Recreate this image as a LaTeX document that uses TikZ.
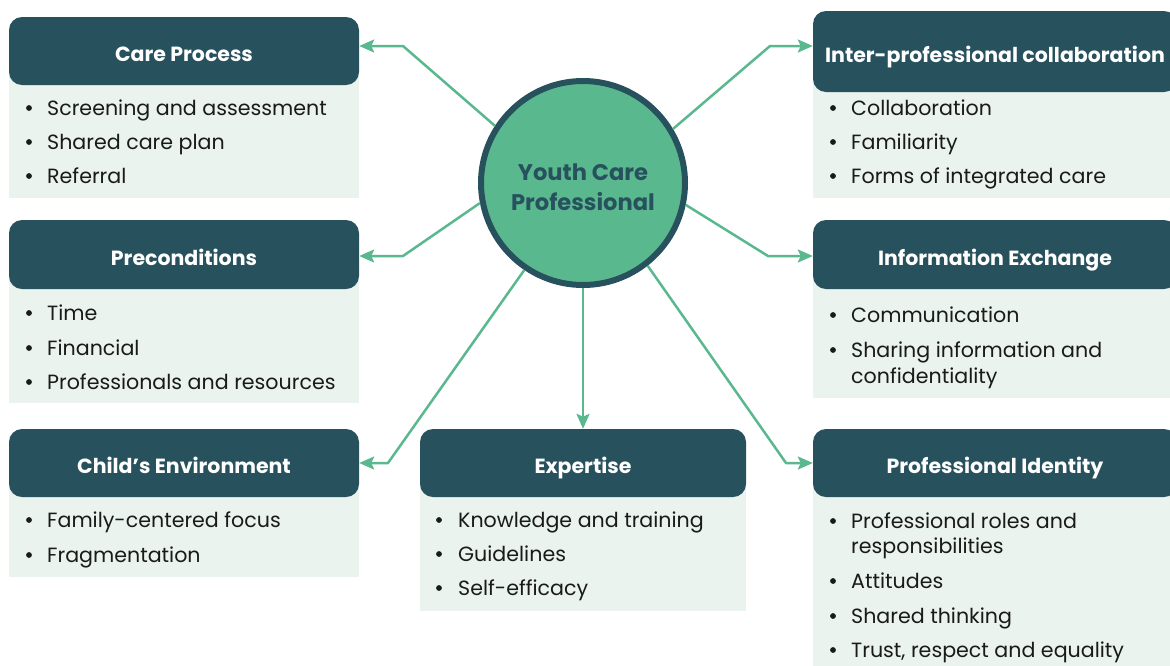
\documentclass[tikz,border=0pt]{standalone}
\usepackage{fontspec}
\setmainfont{Poppins}
\usetikzlibrary{arrows.meta}
\definecolor{dark}{HTML}{28515E}
\definecolor{grn}{HTML}{5AB88F}
\definecolor{light}{HTML}{EAF3EE}
\definecolor{txt}{HTML}{1A1A1A}
\tikzset{
  hdr/.style={fill=dark, rounded corners=13pt, text=white, inner sep=0pt,
    text height=21.5pt, text depth=0pt,
    font=\bfseries\fontsize{20.5}{24}\selectfont},
  bodytxt/.style={anchor=base west, inner sep=0pt, text=txt,
    font=\fontsize{20.6}{24}\selectfont},
  arr/.style={draw=grn, line width=2.5pt, line join=round,
    -{Stealth[length=15pt,width=13pt,inset=3pt]}},
  hub/.style={circle, fill=grn, draw=dark, line width=6pt, minimum size=204pt,
    inner sep=0pt},
  hubtxt/.style={align=center, text=dark, inner sep=0pt,
    font=\bfseries\fontsize{22.6}{30}\selectfont}
}
% name, left x of box, bullet offset, baseline y, text
\newcommand{\bitem}[5]{%
  \fill[txt] (#2+#3,#4-7) circle (2.9pt);
  \node[bodytxt] (#1) at (#2+38,#4) {#5};}
\newcommand{\contline}[4]{%
  \node[bodytxt] (#1) at (#2+38,#3) {#4};}
\begin{document}
\begin{tikzpicture}[x=1pt,y=-1pt]
\useasboundingbox (0,0) rectangle (1170,665);
\clip (0,0) rectangle (1170,665);

% body panels
\fill[light] (9,51) rectangle (359,198);
\fill[light] (9,255) rectangle (359,403);
\fill[light] (9,463) rectangle (359,577);
\fill[light] (420,463) rectangle (746,611);
\fill[light] (813,51) rectangle (1180,198);
\fill[light] (813,255) rectangle (1180,398);
\fill[light] (813,463) rectangle (1180,670);

% headers
\node[hdr, minimum width=350pt, minimum height=68pt] (cp) at (184,51) {Care Process};
\node[hdr, minimum width=350pt, minimum height=69pt] (pre) at (184,254.5) {Preconditions};
\node[hdr, minimum width=350pt, minimum height=68pt] (ce) at (184,463) {Child’s Environment};
\node[hdr, minimum width=326pt, minimum height=68pt] (ex) at (583,463) {Expertise};
\node[hdr, minimum width=364pt, minimum height=81pt] (ipc) at (995,51.5) {Inter-professional collaboration};
\node[hdr, minimum width=364pt, minimum height=69pt] (ie) at (995,254.5) {Information Exchange};
\node[hdr, minimum width=364pt, minimum height=68pt] (pi) at (995,463) {Professional Identity};

% items
\bitem{cp1}{9}{20}{115}{Screening and assessment}
\bitem{cp2}{9}{20}{149}{Shared care plan}
\bitem{cp3}{9}{20}{183}{Referral}
\bitem{pr1}{9}{20}{320}{Time}
\bitem{pr2}{9}{20}{355}{Financial}
\bitem{pr3}{9}{20}{389}{Professionals and resources}
\bitem{ce1}{9}{20}{527}{Family-centered focus}
\bitem{ce2}{9}{20}{562}{Fragmentation}
\bitem{ex1}{420}{19}{527}{Knowledge and training}
\bitem{ex2}{420}{19}{561}{Guidelines}
\bitem{ex3}{420}{19}{595}{Self-efficacy}
\bitem{ip1}{813}{20}{115}{Collaboration}
\bitem{ip2}{813}{20}{149}{Familiarity}
\bitem{ip3}{813}{20}{183}{Forms of integrated care}
\bitem{ie1}{813}{20}{322}{Communication}
\bitem{ie2}{813}{20}{357}{Sharing information and}
\contline{ie2b}{813}{383}{confidentiality}
\bitem{pi1}{813}{20}{528}{Professional roles and}
\contline{pi1b}{813}{553}{responsibilities}
\bitem{pi2}{813}{20}{588}{Attitudes}
\bitem{pi3}{813}{20}{623}{Shared thinking}
\bitem{pi4}{813}{20}{657}{Trust, respect and equality}

% hub
\node[hub] (yc) at (583,183) {};
\node[hubtxt] (yct) at (583,187) {Youth Care\\Professional};

% bends
\coordinate (b1) at (403,46);
\coordinate (b2) at (403,256);
\coordinate (b3) at (388,463);
\coordinate (b4) at (770,46);
\coordinate (b5) at (768,256);
\coordinate (b6) at (786,463);

\draw[arr] (yc.147) -- (b1) -- (b1 -| cp.east);
\draw[arr] (yc.191.5) -- (b2) -- (b2 -| pre.east);
\draw[arr] (yc.236) -- (b3) -- (b3 -| ce.east);
\draw[arr] (yc.south) -- (ex.north);
\draw[arr] (yc.31) -- (b4) -- (b4 -| ipc.west);
\draw[arr] (yc.-12) -- (b5) -- (b5 -| ie.west);
\draw[arr] (yc.-52.6) -- (b6) -- (b6 -| pi.west);
\end{tikzpicture}
\end{document}
